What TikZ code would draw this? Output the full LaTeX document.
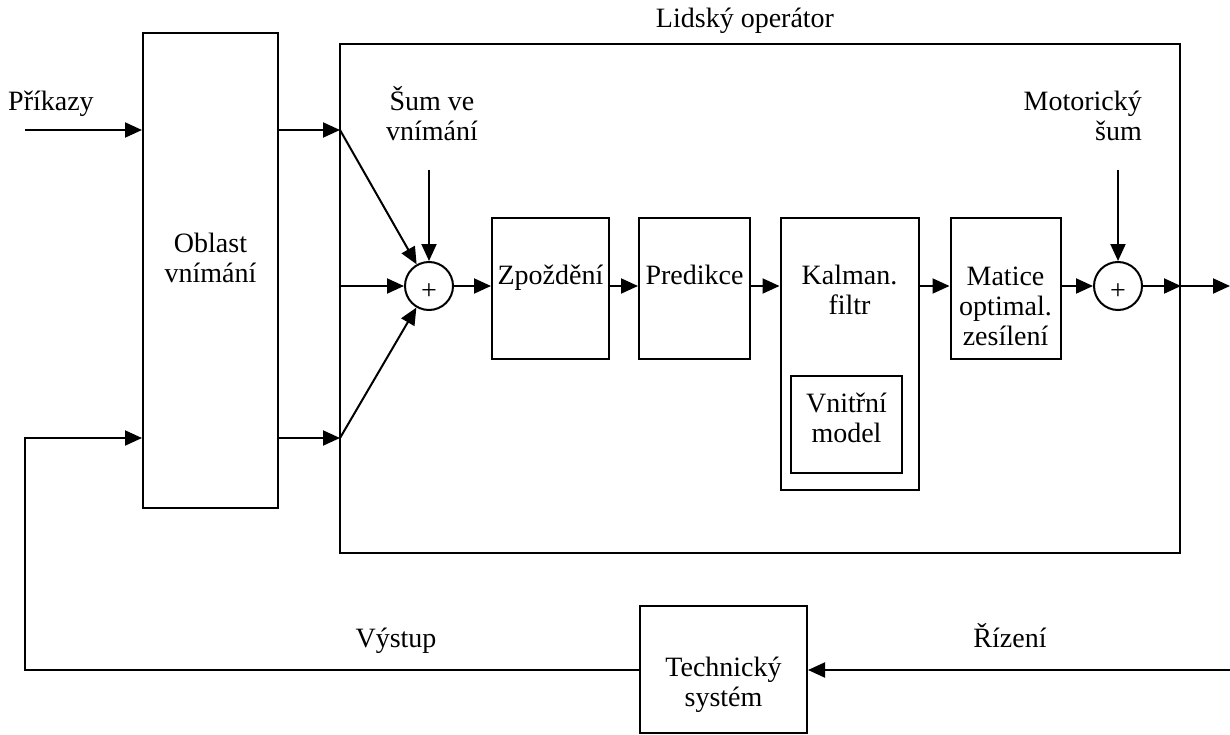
\documentclass[tikz,border=0pt]{standalone}
\usepackage{fontspec}
\setmainfont{Liberation Serif}
\usetikzlibrary{arrows.meta}
\begin{document}
\begin{tikzpicture}[x=1pt,y=-1pt,
  every node/.style={font=\fontsize{28}{30}\selectfont},
  blk/.style={draw, rectangle, line width=2pt, inner sep=0pt},
  sumnode/.style={draw, circle, line width=2pt, minimum size=48pt, inner sep=0pt},
  lbl/.style={inner sep=0pt, anchor=base, align=center},
  plus/.style={inner sep=0pt, font=\fontsize{28}{28}\selectfont},
  sig/.style={line width=2pt, -{Triangle[length=17pt,width=15pt]}}]
\useasboundingbox (0,0) rectangle (1230,735);

% blocks
\node[blk, minimum width=135pt, minimum height=475pt] (ob) at (210.5,270.5) {};
\node[blk, minimum width=840pt, minimum height=509pt] (op) at (760,298.5) {};
\node[blk, minimum width=117pt, minimum height=141pt] (zp) at (550.5,288.5) {};
\node[blk, minimum width=111pt, minimum height=141pt] (pr) at (694.5,288.5) {};
\node[blk, minimum width=138pt, minimum height=272pt] (kf) at (849.5,354) {};
\node[blk, minimum width=111pt, minimum height=97pt] (vm) at (846.5,424.5) {};
\node[blk, minimum width=110pt, minimum height=141pt] (mo) at (1005.5,288.5) {};
\node[blk, minimum width=167pt, minimum height=127pt] (ts) at (723.5,669.5) {};

% summing junctions
\node[sumnode] (s1) at (429,286) {};
\node[sumnode] (s2) at (1118,286) {};
\node[plus] (p1) at ([yshift=-6pt]s1.center) {+};
\node[plus] (p2) at ([yshift=-6pt]s2.center) {+};

% labels (multi-line: anchored at the baseline of the last line)
\node[lbl] (tOp) at (745,28) {Lidský operátor};
\node[lbl, anchor=base west] (tPr) at (8,111) {Příkazy};
\node[lbl] (tOb) at (210.5,282) {Oblast\\vnímání};
\node[lbl] (tSv) at (432,141) {Šum ve\\vnímání};
\node[lbl, anchor=base east, align=right] (tMs) at (1142,141) {Motorický\\šum};
\node[lbl] (tZp) at (550.5,284) {Zpoždění};
\node[lbl] (tPd) at (694.5,284) {Predikce};
\node[lbl] (tKf) at (849.5,314) {Kalman.\\filtr};
\node[lbl] (tVm) at (846.5,442) {Vnitřní\\model};
\node[lbl] (tMo) at (1005.5,345) {Matice\\optimal.\\zesílení};
\node[lbl] (tTs) at (723.5,706) {Technický\\systém};
\node[lbl] (tVy) at (396,647) {Výstup};
\node[lbl] (tRz) at (1010,647) {Řízení};

% free ends and junction points
\coordinate (inP) at (25,130);
\coordinate (fbC) at (25,670);
\coordinate (outR) at (1230,286);
\coordinate (ctlR) at (1230,670);
\coordinate (nz1) at (429,170);
\coordinate (nz2) at (1118,170);
\coordinate (j1) at (340,130);
\coordinate (j2) at (340,438);

% signal flow
\draw[sig] (inP) -- (ob.west |- inP);
\draw[sig] (ob.east |- j1) -- (j1);
\draw[sig] (ob.east |- j2) -- (j2);
\draw[sig] (j1) -- (s1);
\draw[sig] (j2) -- (s1);
\draw[sig] (op.west |- s1) -- (s1.west);
\draw[sig] (nz1) -- (s1.north);
\draw[sig] (s1.east) -- (zp.west |- s1);
\draw[sig] (zp.east |- s1) -- (pr.west |- s1);
\draw[sig] (pr.east |- s1) -- (kf.west |- s1);
\draw[sig] (kf.east |- s1) -- (mo.west |- s1);
\draw[sig] (mo.east |- s2) -- (s2.west);
\draw[sig] (nz2) -- (s2.north);
\draw[sig] (s2.east) -- (op.east |- s2);
\draw[sig] (op.east |- s2) -- (outR);
\draw[sig] (ctlR) -- (ts.east |- ctlR);
\draw[sig] (ts.west |- ctlR) -- (fbC) -- (fbC |- j2) -- (ob.west |- j2);
\end{tikzpicture}
\end{document}
